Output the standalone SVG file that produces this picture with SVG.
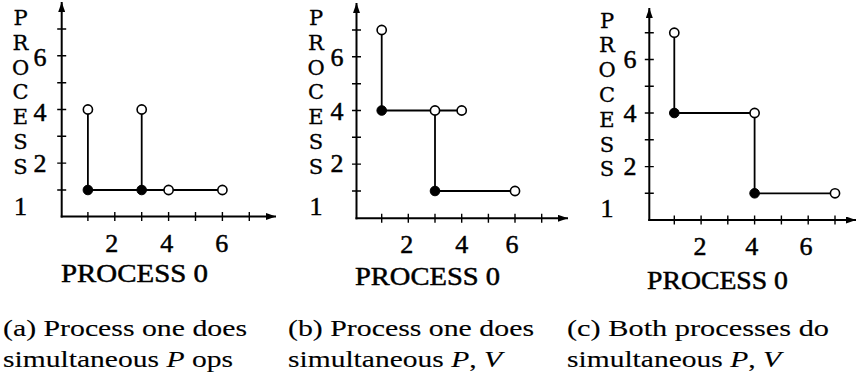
<svg xmlns="http://www.w3.org/2000/svg" width="856" height="391" viewBox="0 0 856 391">
<style>
.ax{stroke:#000;stroke-width:2;fill:none}
.tk{stroke:#000;stroke-width:1.4;fill:none}
.ln{stroke:#000;stroke-width:1.8;fill:none}
.op{fill:#fff;stroke:#000;stroke-width:1.6}
.fl{fill:#000;stroke:#000;stroke-width:1}
.lb{font-family:"Liberation Serif","Times New Roman",serif;font-size:26px;fill:#000;stroke:#000;stroke-width:0.5;text-anchor:middle}
.st{font-family:"DejaVu Serif","Liberation Serif",serif;font-size:21px;fill:#000;stroke:#000;stroke-width:0.3;text-anchor:middle}
.cp{font-family:"Liberation Serif","Times New Roman",serif;font-size:23px;fill:#000;stroke:#000;stroke-width:0.12}
.it{font-style:italic}
</style>
<defs>
<marker id="arr" markerUnits="userSpaceOnUse" markerWidth="10" markerHeight="7" refX="10" refY="3.5" orient="auto">
<path d="M0,0 L10,3.5 L0,7 z" fill="#000"/>
</marker>
</defs>

<!-- Panel a -->
<g id="panel-a">
<g id="axes-a">
<line class="ax" x1="61.7" y1="217.5" x2="61.7" y2="2" marker-end="url(#arr)"/>
<line class="ax" x1="60.7" y1="216.5" x2="276" y2="216.5" marker-end="url(#arr)"/>
<path class="tk" d="M87.9,212v9M114.8,212v9M141.7,212v9M168.6,212v9M195.5,212v9M222.4,212v9M249.3,212v9M57.2,190h9M57.2,163.1h9M57.2,136.3h9M57.2,109.5h9M57.2,82.7h9M57.2,55.8h9M57.2,29h9"/>
</g>
<g id="labels-a">
<text class="st"><tspan x="20.5" y="25">P</tspan><tspan x="20.5" y="49.8">R</tspan><tspan x="20.5" y="74.6">O</tspan><tspan x="20.5" y="99.4">C</tspan><tspan x="20.5" y="124.2">E</tspan><tspan x="20.5" y="149">S</tspan><tspan x="20.5" y="173.8">S</tspan></text>
<text class="lb" x="20.5" y="215">1</text>
<text class="lb" x="40" y="66">6</text>
<text class="lb" x="40" y="121">4</text>
<text class="lb" x="40" y="172">2</text>
<text class="lb" x="111.7" y="252">2</text>
<text class="lb" x="166.7" y="252">4</text>
<text class="lb" x="221.7" y="252">6</text>
<text class="lb" x="134.5" y="282" textLength="147" lengthAdjust="spacingAndGlyphs">PROCESS 0</text>
</g>
<g id="connectors-a">
<line class="ln" x1="87.9" y1="190" x2="87.9" y2="109.5"/>
<line class="ln" x1="141.7" y1="190" x2="141.7" y2="109.5"/>
<line class="ln" x1="87.9" y1="190" x2="222.4" y2="190"/>
</g>
<g id="nodes-a">
<circle id="a-p11" class="fl" cx="87.9" cy="190" r="4.8"/>
<circle id="a-p31" class="fl" cx="141.7" cy="190" r="4.8"/>
<circle id="a-p41" class="op" cx="168.6" cy="190" r="4.6"/>
<circle id="a-p61" class="op" cx="222.4" cy="190" r="4.6"/>
<circle id="a-p14" class="op" cx="87.9" cy="109.5" r="4.6"/>
<circle id="a-p34" class="op" cx="141.7" cy="109.5" r="4.6"/>
</g>
</g>

<!-- Panel b -->
<g id="panel-b">
<g id="axes-b">
<line class="ax" x1="356.5" y1="219.3" x2="356.5" y2="3" marker-end="url(#arr)"/>
<line class="ax" x1="355.5" y1="218.3" x2="568" y2="218.3" marker-end="url(#arr)"/>
<path class="tk" d="M381.7,213.8v9M408.3,213.8v9M435,213.8v9M461.7,213.8v9M488.4,213.8v9M515,213.8v9M541.7,213.8v9M352,191h9M352,164.1h9M352,137.3h9M352,110.5h9M352,83.7h9M352,56.8h9M352,30h9"/>
</g>
<g id="labels-b">
<text class="st"><tspan x="316" y="25">P</tspan><tspan x="316" y="49.8">R</tspan><tspan x="316" y="74.6">O</tspan><tspan x="316" y="99.4">C</tspan><tspan x="316" y="124.2">E</tspan><tspan x="316" y="149">S</tspan><tspan x="316" y="173.8">S</tspan></text>
<text class="lb" x="316" y="215">1</text>
<text class="lb" x="337" y="66">6</text>
<text class="lb" x="337" y="120">4</text>
<text class="lb" x="337" y="172">2</text>
<text class="lb" x="406.7" y="253">2</text>
<text class="lb" x="461.7" y="253">4</text>
<text class="lb" x="512" y="253">6</text>
<text class="lb" x="427.5" y="285" textLength="145" lengthAdjust="spacingAndGlyphs">PROCESS 0</text>
</g>
<g id="connectors-b">
<line class="ln" x1="381.7" y1="110.5" x2="381.7" y2="30"/>
<line class="ln" x1="381.7" y1="110.5" x2="461.7" y2="110.5"/>
<line class="ln" x1="435" y1="110.5" x2="435" y2="191"/>
<line class="ln" x1="435" y1="191" x2="515" y2="191"/>
</g>
<g id="nodes-b">
<circle id="b-p17" class="op" cx="381.7" cy="30" r="4.6"/>
<circle id="b-p14" class="fl" cx="381.7" cy="110.5" r="4.8"/>
<circle id="b-p34" class="op" cx="435" cy="110.5" r="4.6"/>
<circle id="b-p44" class="op" cx="461.7" cy="110.5" r="4.6"/>
<circle id="b-p31" class="fl" cx="435" cy="191" r="4.8"/>
<circle id="b-p61" class="op" cx="515" cy="191" r="4.6"/>
</g>
</g>

<!-- Panel c -->
<g id="panel-c">
<g id="axes-c">
<line class="ax" x1="649.3" y1="221" x2="649.3" y2="8" marker-end="url(#arr)"/>
<line class="ax" x1="648.3" y1="220" x2="856" y2="220" marker-end="url(#arr)"/>
<path class="tk" d="M674.3,215.5v9M701.1,215.5v9M727.8,215.5v9M754.6,215.5v9M781.4,215.5v9M808.2,215.5v9M835,215.5v9M644.8,193.3h9M644.8,166.6h9M644.8,139.8h9M644.8,113h9M644.8,86.2h9M644.8,59.5h9M644.8,32.7h9"/>
</g>
<g id="labels-c">
<text class="st"><tspan x="607" y="27.5">P</tspan><tspan x="607" y="52.3">R</tspan><tspan x="607" y="77.1">O</tspan><tspan x="607" y="101.9">C</tspan><tspan x="607" y="126.7">E</tspan><tspan x="607" y="151.5">S</tspan><tspan x="607" y="176.3">S</tspan></text>
<text class="lb" x="607" y="217">1</text>
<text class="lb" x="630" y="68">6</text>
<text class="lb" x="630" y="122">4</text>
<text class="lb" x="630" y="175">2</text>
<text class="lb" x="700" y="255">2</text>
<text class="lb" x="751.7" y="255">4</text>
<text class="lb" x="806" y="255">6</text>
<text class="lb" x="717.5" y="289" textLength="141" lengthAdjust="spacingAndGlyphs">PROCESS 0</text>
</g>
<g id="connectors-c">
<line class="ln" x1="674.3" y1="113" x2="674.3" y2="32.7"/>
<line class="ln" x1="674.3" y1="113" x2="754.6" y2="113"/>
<line class="ln" x1="754.6" y1="113" x2="754.6" y2="193.3"/>
<line class="ln" x1="754.6" y1="193.3" x2="835" y2="193.3"/>
</g>
<g id="nodes-c">
<circle id="c-p17" class="op" cx="674.3" cy="32.7" r="4.6"/>
<circle id="c-p14" class="fl" cx="674.3" cy="113" r="4.8"/>
<circle id="c-p44" class="op" cx="754.6" cy="113" r="4.6"/>
<circle id="c-p41" class="fl" cx="754.6" cy="193.3" r="4.8"/>
<circle id="c-p71" class="op" cx="835" cy="193.3" r="4.6"/>
</g>
</g>

<!-- Captions -->
<g id="captions">
<text class="cp" x="3" y="336" textLength="244" lengthAdjust="spacingAndGlyphs">(a) Process one does</text>
<text class="cp" x="3" y="367" textLength="230" lengthAdjust="spacingAndGlyphs">simultaneous <tspan class="it">P</tspan> ops</text>
<text class="cp" x="288" y="336" textLength="246" lengthAdjust="spacingAndGlyphs">(b) Process one does</text>
<text class="cp" x="288" y="367" textLength="214" lengthAdjust="spacingAndGlyphs">simultaneous <tspan class="it">P</tspan>, <tspan class="it">V</tspan></text>
<text class="cp" x="567" y="336" textLength="262" lengthAdjust="spacingAndGlyphs">(c) Both processes do</text>
<text class="cp" x="567" y="367" textLength="214" lengthAdjust="spacingAndGlyphs">simultaneous <tspan class="it">P</tspan>, <tspan class="it">V</tspan></text>
</g>
</svg>
